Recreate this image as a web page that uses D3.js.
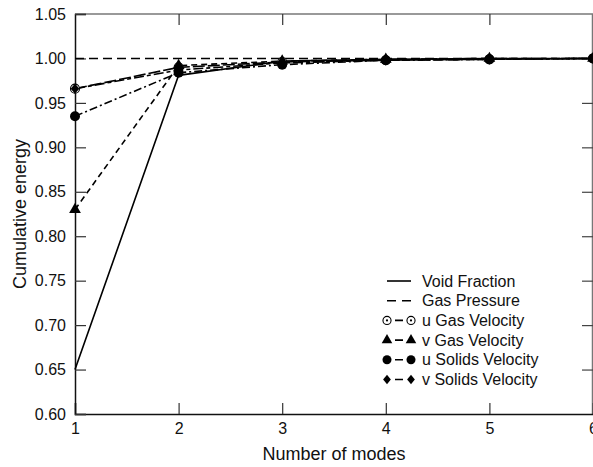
<!DOCTYPE html>
<html><head><meta charset="utf-8">
<script src="https://cdn.jsdelivr.net/npm/d3@7"></script>
<style>body{margin:0;background:#fff}svg{display:block}text{font-family:"Liberation Sans",Arial,sans-serif;fill:#111}</style>
</head><body><svg id="c" width="593" height="467"></svg>
<script>
const modes = [1, 2, 3, 4, 5, 6];
const yTicks = [0.60, 0.65, 0.70, 0.75, 0.80, 0.85, 0.90, 0.95, 1.00, 1.05];
const voidFraction   = [0.650, 0.981, 0.997, 0.999, 1.000, 1.000];
const gasPressure    = [1.000, 1.000, 1.000, 1.000, 1.000, 1.000];
const uGasVelocity   = [0.966, 0.990, 0.996, 0.998, 0.999, 1.000];
const vGasVelocity   = [0.830, 0.992, 0.997, 0.999, 1.000, 1.000];
const uSolidsVelocity= [0.935, 0.984, 0.993, 0.998, 0.999, 1.000];
const vSolidsVelocity= [0.966, 0.987, 0.995, 0.998, 0.999, 1.000];
const seriesNames = ["Void Fraction","Gas Pressure","u Gas Velocity","v Gas Velocity","u Solids Velocity","v Solids Velocity"];

const series = [
  {name: seriesNames[0], values: voidFraction, dash: null, marker: null},
  {name: seriesNames[1], values: gasPressure, dash: "9,5", marker: null},
  {name: seriesNames[2], values: uGasVelocity, dash: "12,3", marker: "ocircle"},
  {name: seriesNames[3], values: vGasVelocity, dash: "6,4", marker: "triangle"},
  {name: seriesNames[4], values: uSolidsVelocity, dash: "8,3,2,3", marker: "circle"},
  {name: seriesNames[5], values: vSolidsVelocity, dash: "10,3,4,3", marker: "diamond"}
];

const svg = d3.select("#c");
const L = 75, R = 593, T = 14, B = 414;
const x = d3.scaleLinear().domain([1, 6]).range([L, R]);
const y = d3.scaleLinear().domain([0.60, 1.05]).range([B, T]);

// frame
svg.append("line").attr("x1",L).attr("x2",R).attr("y1",T).attr("y2",T).attr("stroke","#777").attr("stroke-width",1.5);
svg.append("line").attr("x1",R-0.5).attr("x2",R-0.5).attr("y1",T).attr("y2",B).attr("stroke","#777").attr("stroke-width",1.5);

// bottom axis
const xAxis = d3.axisBottom(x).tickValues(modes).tickSize(-11).tickPadding(9).tickFormat(d3.format("d"));
const gx = svg.append("g").attr("transform",`translate(0,${B})`).call(xAxis);
gx.select(".domain").attr("stroke","#111").attr("stroke-width",1.5);
gx.selectAll(".tick line").attr("stroke","#333").attr("stroke-width",1.2);
gx.selectAll("text").attr("font-size",16).attr("fill","#111");

// top ticks
const xt = d3.axisTop(x).tickValues(modes.slice(1,5)).tickSize(-11).tickFormat("");
const gxt = svg.append("g").attr("transform",`translate(0,${T})`).call(xt);
gxt.select(".domain").remove();
gxt.selectAll(".tick line").attr("stroke","#333").attr("stroke-width",1.2);

// left axis
const yAxis = d3.axisLeft(y).tickValues(yTicks).tickSize(-11).tickPadding(9).tickFormat(d3.format(".2f"));
const gy = svg.append("g").attr("transform",`translate(${L},0)`).call(yAxis);
gy.select(".domain").attr("stroke","#111").attr("stroke-width",1.5);
gy.selectAll(".tick line").attr("stroke","#333").attr("stroke-width",1.2);
gy.selectAll("text").attr("font-size",16).attr("fill","#111");

// right ticks
const yr = d3.axisRight(y).tickValues(yTicks.slice(1,9)).tickSize(-11).tickFormat("");
const gyr = svg.append("g").attr("transform",`translate(${R},0)`).call(yr);
gyr.select(".domain").remove();
gyr.selectAll(".tick line").attr("stroke","#444").attr("stroke-width",1.2);

// axis titles
svg.append("text").attr("x",(L+R)/2).attr("y",460).attr("text-anchor","middle").attr("font-size",18).text("Number of modes");
svg.append("text").attr("transform",`translate(26,${(T+B)/2}) rotate(-90)`).attr("text-anchor","middle").attr("font-size",18).text("Cumulative energy");

function drawMarker(g, type, cx, cy, s) {
  s = s || 1;
  if (type === "circle") g.append("circle").attr("cx",cx).attr("cy",cy).attr("r",5*s).attr("fill","#000");
  else if (type === "ocircle") {
    g.append("circle").attr("cx",cx).attr("cy",cy).attr("r",4.5*s).attr("fill","#fff").attr("stroke","#000").attr("stroke-width",1.1);
    g.append("circle").attr("cx",cx).attr("cy",cy).attr("r",1.1).attr("fill","#000");
  } else if (type === "triangle") {
    g.append("path").attr("d", d3.symbol(d3.symbolTriangle, 60*s*s)()).attr("transform",`translate(${cx},${cy})`).attr("fill","#000");
  } else if (type === "diamond") {
    g.append("path").attr("d", d3.symbol(d3.symbolDiamond, 38*s*s)()).attr("transform",`translate(${cx},${cy}) scale(1.3,0.9)`).attr("fill","#000");
  }
}

const line = d3.line().x((d,i)=>x(modes[i])).y(d=>y(d));
const plot = svg.append("g");
series.forEach(s => {
  plot.append("path").datum(s.values).attr("d",line).attr("fill","none").attr("stroke","#000")
    .attr("stroke-width",1.6).attr("stroke-dasharray",s.dash);
});
series.forEach(s => {
  if (!s.marker) return;
  s.values.forEach((v,i)=> drawMarker(plot, s.marker, x(modes[i]), y(v)));
});

// legend
const lg = svg.append("g");
const lx0 = 387, lx1 = 411, ty0 = 281, dy = 19.7;
series.forEach((s,i) => {
  const cy = ty0 + i*dy;
  lg.append("line").attr("x1",lx0).attr("x2",lx1).attr("y1",cy).attr("y2",cy).attr("stroke","#000").attr("stroke-width",1.6)
    .attr("stroke-dasharray", i===0 ? null : (i===1 ? "9,6" : "0,8,8,8"));
  if (s.marker) { drawMarker(lg, s.marker, lx0, cy, 0.9); drawMarker(lg, s.marker, lx1, cy, 0.9); }
  lg.append("text").attr("x",422).attr("y",cy+5.5).attr("font-size",16).text(s.name);
});
</script></body></html>
